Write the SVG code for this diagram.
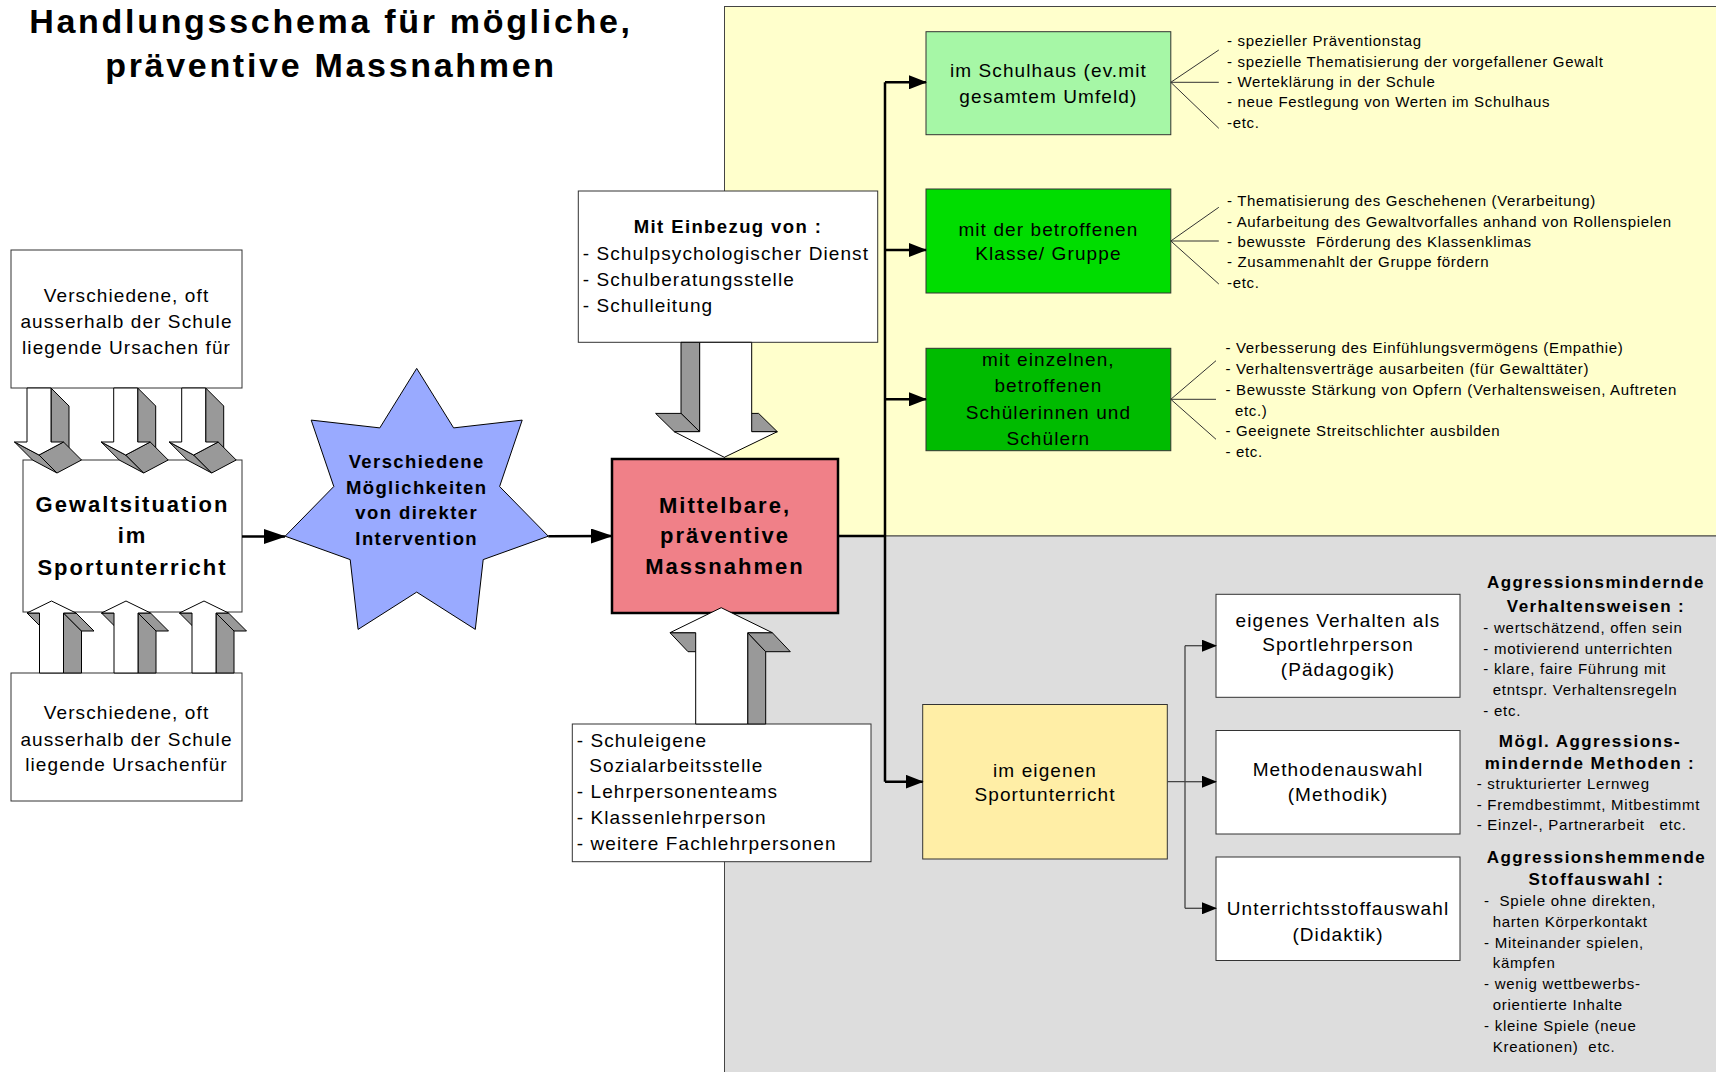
<svg xmlns="http://www.w3.org/2000/svg" width="1716" height="1072" viewBox="0 0 1716 1072">
<defs>
<style>
text{font-family:"Liberation Sans",Arial,Helvetica,sans-serif;fill:#000}
.title{font-size:34px;font-weight:bold;letter-spacing:2.7px}
.r19{font-size:19px;letter-spacing:1.1px}
.b22{font-size:22px;font-weight:bold;letter-spacing:2px}
.b18{font-size:18.5px;font-weight:bold;letter-spacing:1.4px}
.b17{font-size:17px;font-weight:bold;letter-spacing:1.4px}
.r15{font-size:15px;letter-spacing:0.67px}
.r15b{font-size:15px;letter-spacing:0.75px}
.mid{text-anchor:middle}
.box{stroke:#333;stroke-width:1}
.g3d{fill:#999;stroke:#000;stroke-width:1;stroke-linejoin:round}
.front{fill:#fff;stroke:#000;stroke-width:1;stroke-linejoin:round}
.conn{stroke:#000;stroke-width:2.5;fill:none}
.thin{stroke:#444;stroke-width:1.3;fill:none}
.fan{stroke:#333;stroke-width:1;fill:none}
</style>
<marker id="ahL" markerWidth="22" markerHeight="15" refX="21" refY="7.5" orient="auto" markerUnits="userSpaceOnUse"><path d="M0,0 L22,7.5 L0,15 z" fill="#000"/></marker>
<marker id="ahM" markerWidth="18" markerHeight="14" refX="17" refY="7" orient="auto" markerUnits="userSpaceOnUse"><path d="M0,0 L18,7 L0,14 z" fill="#000"/></marker>
<marker id="ahS" markerWidth="15" markerHeight="12" refX="14" refY="6" orient="auto" markerUnits="userSpaceOnUse"><path d="M0,0 L15,6 L0,12 z" fill="#000"/></marker>
<g id="smallDown">
<polygon class="g3d" points="12,-67 12,-13 30,5 30,-49"/>
<polygon class="g3d" points="-24.5,-13 0,0 18,18 -6.5,5"/>
<polygon class="g3d" points="24.5,-13 0,0 18,18 42.5,5"/>
<polygon class="front" points="0,0 -24.5,-13 -12,-13 -12,-67 12,-67 12,-13 24.5,-13"/>
</g>
<g id="smallUp">
<polygon class="g3d" points="-24.5,12 -12,12 6,30 -6.5,30"/>
<polygon class="g3d" points="12,12 12,72 30,72 30,30"/>
<polygon class="g3d" points="12,12 24.5,12 42.5,30 30,30"/>
<polygon class="front" points="0,0 24.5,12 12,12 12,72 -12,72 -12,12 -24.5,12"/>
</g>
</defs>

<rect width="1716" height="1072" fill="#fff"/>
<g id="backgrounds">
<rect x="724.5" y="6.5" width="992" height="529.5" fill="#ffffcc" stroke="#444" stroke-width="1"/>
<rect x="724.5" y="536" width="992" height="537" fill="#dddddd" stroke="#444" stroke-width="1"/>
</g>

<g id="title">
<text class="title mid" x="331" y="33">Handlungsschema für mögliche,</text>
<text class="title mid" x="331" y="77">präventive Massnahmen</text>
</g>

<g id="node-ursachen-oben">
<rect x="11" y="250" width="231" height="138" fill="#fff" class="box"/>
<text class="r19 mid" x="126.5" y="302">Verschiedene, oft</text>
<text class="r19 mid" x="126.5" y="328">ausserhalb der Schule</text>
<text class="r19 mid" x="126.5" y="354">liegende Ursachen für</text>
</g>

<g id="node-gewaltsituation">
<rect x="23" y="460" width="219" height="152" fill="#fff" class="box"/>
<text class="b22 mid" x="132.5" y="512">Gewaltsituation</text>
<text class="b22 mid" x="132.5" y="543">im</text>
<text class="b22 mid" x="132.5" y="575">Sportunterricht</text>
</g>

<g id="node-ursachen-unten">
<rect x="11" y="673" width="231" height="128" fill="#fff" class="box"/>
<text class="r19 mid" x="126.5" y="719">Verschiedene, oft</text>
<text class="r19 mid" x="126.5" y="745.5">ausserhalb der Schule</text>
<text class="r19 mid" x="126.5" y="771">liegende Ursachenfür</text>
</g>

<g id="node-intervention">
<polygon points="416.7,368.4 453.6,427.9 522.2,420.1 499.6,486.5 548.3,536.2 483.2,559.6 475.3,629.4 416.7,592.1 358.1,629.4 350.2,559.6 285.1,536.2 333.8,486.5 311.2,420.1 379.8,427.9" fill="#99aaff" stroke="#000" stroke-width="1"/>
<text class="b18 mid" x="416.7" y="468">Verschiedene</text>
<text class="b18 mid" x="416.7" y="493.5">Möglichkeiten</text>
<text class="b18 mid" x="416.7" y="519">von direkter</text>
<text class="b18 mid" x="416.7" y="545">Intervention</text>
</g>

<g id="node-massnahmen">
<rect x="612" y="459" width="226" height="154" fill="#f08088" stroke="#000" stroke-width="2.5"/>
<text class="b22 mid" x="725" y="512.7">Mittelbare,</text>
<text class="b22 mid" x="725" y="543">präventive</text>
<text class="b22 mid" x="725" y="574">Massnahmen</text>
</g>

<g id="node-einbezug">
<rect x="578.3" y="191" width="299.4" height="151.3" fill="#fff" class="box"/>
<text class="b18 mid" x="728" y="233.3">Mit Einbezug von :</text>
<text class="r19" x="582.7" y="260">- Schulpsychologischer Dienst</text>
<text class="r19" x="582.7" y="286">- Schulberatungsstelle</text>
<text class="r19" x="582.7" y="311.7">- Schulleitung</text>
</g>

<g id="node-schuleigene">
<rect x="572.3" y="724" width="298.7" height="137.7" fill="#fff" class="box"/>
<text class="r19" x="576.7" y="747.3">- Schuleigene</text>
<text class="r19" x="589.3" y="772.3">Sozialarbeitsstelle</text>
<text class="r19" x="576.7" y="798.3">- Lehrpersonenteams</text>
<text class="r19" x="576.7" y="824.3">- Klassenlehrperson</text>
<text class="r19" x="576.7" y="850">- weitere Fachlehrpersonen</text>
</g>

<g id="node-schulhaus">
<rect x="926" y="31.7" width="244.8" height="103" fill="#a6f7a6" class="box"/>
<text class="r19 mid" x="1048.4" y="77">im Schulhaus (ev.mit</text>
<text class="r19 mid" x="1048.4" y="103">gesamtem Umfeld)</text>
</g>
<g id="list-schulhaus">
<path class="fan" d="M1170.8,82.3 L1218.8,50 M1170.8,82.3 H1218.8 M1170.8,82.3 L1218.8,128.3"/>
<text class="r15" x="1227" y="46">- spezieller Präventionstag</text>
<text class="r15" x="1227" y="67">- spezielle Thematisierung der vorgefallener Gewalt</text>
<text class="r15" x="1227" y="87">- Werteklärung in der Schule</text>
<text class="r15" x="1227" y="107">- neue Festlegung von Werten im Schulhaus</text>
<text class="r15" x="1227" y="128">-etc.</text>
</g>

<g id="node-klasse">
<rect x="926" y="189" width="244.8" height="104" fill="#00dd00" class="box"/>
<text class="r19 mid" x="1048.4" y="235.5">mit der betroffenen</text>
<text class="r19 mid" x="1048.4" y="260">Klasse/ Gruppe</text>
</g>
<g id="list-klasse">
<path class="fan" d="M1170.8,241 L1218.8,207.3 M1170.8,241 H1218.8 M1170.8,241 L1218.8,284"/>
<text class="r15" x="1227" y="206">- Thematisierung des Geschehenen (Verarbeitung)</text>
<text class="r15" x="1227" y="226.5">- Aufarbeitung des Gewaltvorfalles anhand von Rollenspielen</text>
<text class="r15" x="1227" y="246.5">- bewusste&#160; Förderung des Klassenklimas</text>
<text class="r15" x="1227" y="267">- Zusammenahlt der Gruppe fördern</text>
<text class="r15" x="1227" y="288">-etc.</text>
</g>

<g id="node-einzelne">
<rect x="926" y="348.3" width="244.8" height="102.4" fill="#00bb00" class="box"/>
<text class="r19 mid" x="1048.4" y="365.5">mit einzelnen,</text>
<text class="r19 mid" x="1048.4" y="392">betroffenen</text>
<text class="r19 mid" x="1048.4" y="418.5">Schülerinnen und</text>
<text class="r19 mid" x="1048.4" y="444.5">Schülern</text>
</g>
<g id="list-einzelne">
<path class="fan" d="M1170.8,399.3 L1216,360.7 M1170.8,399.3 H1216 M1170.8,399.3 L1216,439.3"/>
<text class="r15" x="1225.5" y="353">- Verbesserung des Einfühlungsvermögens (Empathie)</text>
<text class="r15" x="1225.5" y="374">- Verhaltensverträge ausarbeiten (für Gewalttäter)</text>
<text class="r15" x="1225.5" y="394.5">- Bewusste Stärkung von Opfern (Verhaltensweisen, Auftreten</text>
<text class="r15" x="1235" y="415.5">etc.)</text>
<text class="r15" x="1225.5" y="435.5">- Geeignete Streitschlichter ausbilden</text>
<text class="r15" x="1225.5" y="456.5">- etc.</text>
</g>

<g id="node-sportunterricht">
<rect x="922.7" y="704.5" width="244.6" height="154.5" fill="#ffeea6" class="box"/>
<text class="r19 mid" x="1045" y="776.5">im eigenen</text>
<text class="r19 mid" x="1045" y="800.7">Sportunterricht</text>
</g>

<g id="node-verhalten">
<rect x="1216" y="594.3" width="244" height="103" fill="#fff" class="box"/>
<text class="r19 mid" x="1338" y="627">eigenes Verhalten als</text>
<text class="r19 mid" x="1338" y="651">Sportlehrperson</text>
<text class="r19 mid" x="1338" y="675.5">(Pädagogik)</text>
</g>
<g id="node-methoden">
<rect x="1216" y="730.5" width="244" height="103.5" fill="#fff" class="box"/>
<text class="r19 mid" x="1338" y="775.5">Methodenauswahl</text>
<text class="r19 mid" x="1338" y="800.5">(Methodik)</text>
</g>
<g id="node-stoff">
<rect x="1216" y="857" width="244" height="103.5" fill="#fff" class="box"/>
<text class="r19 mid" x="1338" y="915">Unterrichtsstoffauswahl</text>
<text class="r19 mid" x="1338" y="940.5">(Didaktik)</text>
</g>

<g id="list-verhalten">
<text class="b17 mid" x="1596" y="588.3">Aggressionsmindernde</text>
<text class="b17 mid" x="1596" y="611.7">Verhaltensweisen :</text>
<text class="r15b" x="1483.3" y="633">- wertschätzend, offen sein</text>
<text class="r15b" x="1483.3" y="653.5">- motivierend unterrichten</text>
<text class="r15b" x="1483.3" y="674">- klare, faire Führung mit</text>
<text class="r15b" x="1492.7" y="695">etntspr. Verhaltensregeln</text>
<text class="r15b" x="1483.3" y="715.5">- etc.</text>
</g>
<g id="list-methoden">
<text class="b17 mid" x="1590" y="746.5">Mögl. Aggressions-</text>
<text class="b17 mid" x="1590" y="768.5">mindernde Methoden :</text>
<text class="r15b" x="1476.7" y="789">- strukturierter Lernweg</text>
<text class="r15b" x="1476.7" y="809.5">- Fremdbestimmt, Mitbestimmt</text>
<text class="r15b" x="1476.7" y="830">- Einzel-, Partnerarbeit&#160;&#160; etc.</text>
</g>
<g id="list-stoff">
<text class="b17 mid" x="1596.5" y="862.5">Aggressionshemmende</text>
<text class="b17 mid" x="1596.5" y="885">Stoffauswahl :</text>
<text class="r15b" x="1484" y="906">-&#160; Spiele ohne direkten,</text>
<text class="r15b" x="1492.7" y="927">harten Körperkontakt</text>
<text class="r15b" x="1484" y="947.5">- Miteinander spielen,</text>
<text class="r15b" x="1492.7" y="968">kämpfen</text>
<text class="r15b" x="1484" y="989">- wenig wettbewerbs-</text>
<text class="r15b" x="1492.7" y="1010">orientierte Inhalte</text>
<text class="r15b" x="1484" y="1031">- kleine Spiele (neue</text>
<text class="r15b" x="1492.7" y="1052">Kreationen)&#160; etc.</text>
</g>

<g id="block-arrows">
<use href="#smallDown" x="39" y="455"/>
<use href="#smallDown" x="125.7" y="455"/>
<use href="#smallDown" x="193.7" y="455"/>
<use href="#smallUp" x="51.5" y="601"/>
<use href="#smallUp" x="126" y="601"/>
<use href="#smallUp" x="204" y="601"/>
<g id="arrow-einbezug">
<polygon class="g3d" points="681,342.3 699.7,342.3 699.7,431.7 681,413.4"/>
<polygon class="g3d" points="655.6,413.4 681,413.4 699.7,431.7 674.3,431.7"/>
<polygon class="g3d" points="733,413.4 758.6,413.4 777.3,431.7 751.7,431.7"/>
<polygon class="front" points="724.3,457.3 674.3,431.7 699.7,431.7 699.7,342.3 751.7,342.3 751.7,431.7 777.3,431.7"/>
</g>
<g id="arrow-schuleigene">
<polygon class="g3d" points="670,632.7 695.7,632.7 713.7,651.7 688,651.7"/>
<polygon class="g3d" points="747.7,632.7 747.7,724 765.7,724 765.7,651.7"/>
<polygon class="g3d" points="747.7,632.7 772.3,632.7 790.3,651.7 765.7,651.7"/>
<polygon class="front" points="721.2,607.7 772.3,632.7 747.7,632.7 747.7,724 695.7,724 695.7,632.7 670,632.7"/>
</g>
</g>

<g id="connectors">
<path class="conn" d="M242,536.5 H285" marker-end="url(#ahL)"/>
<path class="conn" d="M548.3,536.3 L612,536" marker-end="url(#ahL)"/>
<path class="conn" d="M838,536 H885"/>
<path class="conn" d="M885,82.3 V781.7"/>
<path class="conn" d="M885,82.3 H926" marker-end="url(#ahM)"/>
<path class="conn" d="M885,250 H926" marker-end="url(#ahM)"/>
<path class="conn" d="M885,399.3 H926" marker-end="url(#ahM)"/>
<path class="conn" d="M885,781.7 H922.7" marker-end="url(#ahM)"/>
<path class="thin" d="M1167.3,781.7 H1185 M1185,645.7 V908.3"/>
<path class="thin" d="M1185,645.7 H1216" marker-end="url(#ahS)"/>
<path class="thin" d="M1185,781.7 H1216" marker-end="url(#ahS)"/>
<path class="thin" d="M1185,908.3 H1216" marker-end="url(#ahS)"/>
</g>
</svg>
